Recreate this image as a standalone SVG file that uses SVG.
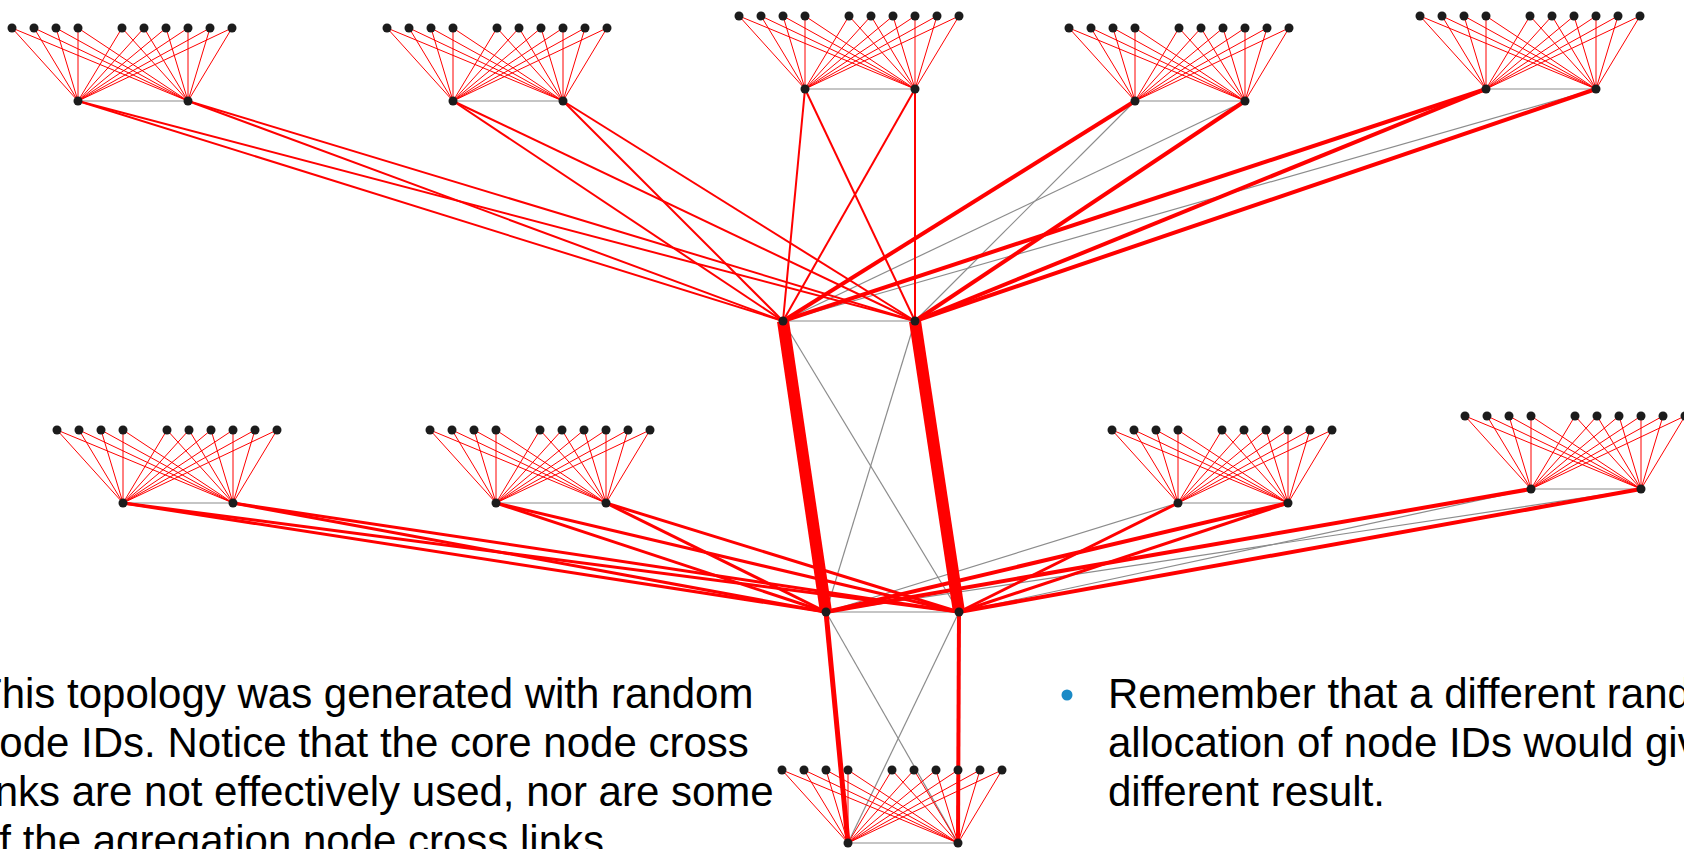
<svg xmlns="http://www.w3.org/2000/svg" xmlns:xlink="http://www.w3.org/1999/xlink" width="1684" height="849" viewBox="0 0 1684 849">
  <style>
    .fan { fill: none; stroke: #ff0000; stroke-width: 1; stroke-linejoin: round; }
    .g { stroke: #8c8c8c; stroke-width: 1.2; fill: none; }
    .r2 { stroke: #ff0000; stroke-width: 2; }
    .r3 { stroke: #ff0000; stroke-width: 3; }
    .r4 { stroke: #ff0000; stroke-width: 4; }
    .r5 { stroke: #ff0000; stroke-width: 5; }
    .r12 { stroke: #ff0000; stroke-width: 12; }
    .node circle { fill: #1c1c1c; }
    .txt { font-family: "Liberation Sans", Arial, sans-serif; font-size: 42px; fill: #000; }
  </style>
  <defs>
    <!-- one access block: two aggregation nodes (0,0) and (110,0), ten hosts 73 px above -->
    <path id="fan" d="M0,0 L-66,-73 L110,0 M0,0 L-44,-73 L110,0 M0,0 L-22,-73 L110,0 M0,0 L0,-73 L110,0 M0,0 L44,-73 L110,0 M0,0 L66,-73 L110,0 M0,0 L88,-73 L110,0 M0,0 L110,-73 L110,0 M0,0 L132,-73 L110,0 M0,0 L154,-73 L110,0"/>
    <line id="pair" x1="0" y1="0" x2="110" y2="0"/>
  </defs>

  <g id="connectors">
    <!-- unused cross links (grey) -->
    <g class="g">
      <use href="#pair" x="78" y="101"/>
      <use href="#pair" x="453" y="101"/>
      <use href="#pair" x="805" y="89"/>
      <use href="#pair" x="1135" y="101"/>
      <use href="#pair" x="1486" y="89"/>
      <use href="#pair" x="123" y="503"/>
      <use href="#pair" x="496" y="503"/>
      <use href="#pair" x="1178" y="503"/>
      <use href="#pair" x="1531" y="489"/>
      <use href="#pair" x="848" y="843"/>
      <line x1="783" y1="321" x2="915" y2="321"/>
      <line x1="826" y1="612" x2="959" y2="612"/>
      <line x1="783" y1="321" x2="959" y2="612"/>
      <line x1="915" y1="321" x2="826" y2="612"/>
      <line x1="826" y1="612" x2="958" y2="843"/>
      <line x1="959" y1="612" x2="848" y2="843"/>
      <line x1="1135" y1="101" x2="915" y2="321"/>
      <line x1="1245" y1="101" x2="783" y2="321"/>
      <line x1="1596" y1="89" x2="783" y2="321"/>
      <line x1="1178" y1="503" x2="826" y2="612"/>
      <line x1="1531" y1="489" x2="959" y2="612"/>
      <line x1="1641" y1="489" x2="826" y2="612"/>
    </g>

    <!-- host to aggregation fans -->
    <g class="fan">
      <use href="#fan" x="78" y="101"/>
      <use href="#fan" x="453" y="101"/>
      <use href="#fan" x="805" y="89"/>
      <use href="#fan" x="1135" y="101"/>
      <use href="#fan" x="1486" y="89"/>
      <use href="#fan" x="123" y="503"/>
      <use href="#fan" x="496" y="503"/>
      <use href="#fan" x="1178" y="503"/>
      <use href="#fan" x="1531" y="489"/>
      <use href="#fan" x="848" y="843"/>
    </g>

    <!-- upper aggregation to upper core -->
    <g class="r2">
      <line x1="78" y1="101" x2="783" y2="321"/>
      <line x1="78" y1="101" x2="915" y2="321"/>
      <line x1="188" y1="101" x2="783" y2="321"/>
      <line x1="188" y1="101" x2="915" y2="321"/>
      <line x1="453" y1="101" x2="783" y2="321"/>
      <line x1="453" y1="101" x2="915" y2="321"/>
      <line x1="563" y1="101" x2="783" y2="321"/>
      <line x1="563" y1="101" x2="915" y2="321"/>
      <line x1="805" y1="89" x2="783" y2="321"/>
      <line x1="805" y1="89" x2="915" y2="321"/>
      <line x1="915" y1="89" x2="783" y2="321"/>
      <line x1="915" y1="89" x2="915" y2="321"/>
    </g>
    <g class="r4">
      <line x1="1135" y1="101" x2="783" y2="321"/>
      <line x1="1245" y1="101" x2="915" y2="321"/>
      <line x1="1486" y1="89" x2="783" y2="321"/>
      <line x1="1486" y1="89" x2="915" y2="321"/>
      <line x1="1596" y1="89" x2="915" y2="321"/>
    </g>

    <!-- lower aggregation to lower core -->
    <g class="r3">
      <line x1="123" y1="503" x2="826" y2="612"/>
      <line x1="123" y1="503" x2="959" y2="612"/>
      <line x1="233" y1="503" x2="826" y2="612"/>
      <line x1="233" y1="503" x2="959" y2="612"/>
      <line x1="496" y1="503" x2="826" y2="612"/>
      <line x1="496" y1="503" x2="959" y2="612"/>
      <line x1="606" y1="503" x2="826" y2="612"/>
      <line x1="606" y1="503" x2="959" y2="612"/>
      <line x1="1178" y1="503" x2="959" y2="612"/>
      <line x1="1288" y1="503" x2="959" y2="612"/>
    </g>
    <g class="r4">
      <line x1="1288" y1="503" x2="826" y2="612"/>
      <line x1="1531" y1="489" x2="826" y2="612"/>
      <line x1="1641" y1="489" x2="959" y2="612"/>
    </g>

    <!-- core trunks -->
    <line class="r12" x1="783" y1="321" x2="826" y2="612"/>
    <line class="r12" x1="915" y1="321" x2="959" y2="612"/>
    <line class="r5" x1="826" y1="612" x2="848" y2="843"/>
    <line class="r4" x1="959" y1="612" x2="958" y2="843"/>
  </g>

  <!-- core nodes -->
  <g id="c1" class="node"><circle cx="783" cy="321" r="4.5"/></g>
  <g id="c2" class="node"><circle cx="915" cy="321" r="4.5"/></g>
  <g id="d1" class="node"><circle cx="826" cy="612" r="4.5"/></g>
  <g id="d2" class="node"><circle cx="959" cy="612" r="4.5"/></g>

  <!-- block t1 -->
  <g id="t1-a" class="node"><circle cx="78" cy="101" r="4.5"/></g>
  <g id="t1-b" class="node"><circle cx="188" cy="101" r="4.5"/></g>
  <g id="t1-h1" class="node"><circle cx="12" cy="28" r="4.5"/></g>
  <g id="t1-h2" class="node"><circle cx="34" cy="28" r="4.5"/></g>
  <g id="t1-h3" class="node"><circle cx="56" cy="28" r="4.5"/></g>
  <g id="t1-h4" class="node"><circle cx="78" cy="28" r="4.5"/></g>
  <g id="t1-h5" class="node"><circle cx="122" cy="28" r="4.5"/></g>
  <g id="t1-h6" class="node"><circle cx="144" cy="28" r="4.5"/></g>
  <g id="t1-h7" class="node"><circle cx="166" cy="28" r="4.5"/></g>
  <g id="t1-h8" class="node"><circle cx="188" cy="28" r="4.5"/></g>
  <g id="t1-h9" class="node"><circle cx="210" cy="28" r="4.5"/></g>
  <g id="t1-h10" class="node"><circle cx="232" cy="28" r="4.5"/></g>

  <!-- block t2 -->
  <g id="t2-a" class="node"><circle cx="453" cy="101" r="4.5"/></g>
  <g id="t2-b" class="node"><circle cx="563" cy="101" r="4.5"/></g>
  <g id="t2-h1" class="node"><circle cx="387" cy="28" r="4.5"/></g>
  <g id="t2-h2" class="node"><circle cx="409" cy="28" r="4.5"/></g>
  <g id="t2-h3" class="node"><circle cx="431" cy="28" r="4.5"/></g>
  <g id="t2-h4" class="node"><circle cx="453" cy="28" r="4.5"/></g>
  <g id="t2-h5" class="node"><circle cx="497" cy="28" r="4.5"/></g>
  <g id="t2-h6" class="node"><circle cx="519" cy="28" r="4.5"/></g>
  <g id="t2-h7" class="node"><circle cx="541" cy="28" r="4.5"/></g>
  <g id="t2-h8" class="node"><circle cx="563" cy="28" r="4.5"/></g>
  <g id="t2-h9" class="node"><circle cx="585" cy="28" r="4.5"/></g>
  <g id="t2-h10" class="node"><circle cx="607" cy="28" r="4.5"/></g>

  <!-- block t3 -->
  <g id="t3-a" class="node"><circle cx="805" cy="89" r="4.5"/></g>
  <g id="t3-b" class="node"><circle cx="915" cy="89" r="4.5"/></g>
  <g id="t3-h1" class="node"><circle cx="739" cy="16" r="4.5"/></g>
  <g id="t3-h2" class="node"><circle cx="761" cy="16" r="4.5"/></g>
  <g id="t3-h3" class="node"><circle cx="783" cy="16" r="4.5"/></g>
  <g id="t3-h4" class="node"><circle cx="805" cy="16" r="4.5"/></g>
  <g id="t3-h5" class="node"><circle cx="849" cy="16" r="4.5"/></g>
  <g id="t3-h6" class="node"><circle cx="871" cy="16" r="4.5"/></g>
  <g id="t3-h7" class="node"><circle cx="893" cy="16" r="4.5"/></g>
  <g id="t3-h8" class="node"><circle cx="915" cy="16" r="4.5"/></g>
  <g id="t3-h9" class="node"><circle cx="937" cy="16" r="4.5"/></g>
  <g id="t3-h10" class="node"><circle cx="959" cy="16" r="4.5"/></g>

  <!-- block t4 -->
  <g id="t4-a" class="node"><circle cx="1135" cy="101" r="4.5"/></g>
  <g id="t4-b" class="node"><circle cx="1245" cy="101" r="4.5"/></g>
  <g id="t4-h1" class="node"><circle cx="1069" cy="28" r="4.5"/></g>
  <g id="t4-h2" class="node"><circle cx="1091" cy="28" r="4.5"/></g>
  <g id="t4-h3" class="node"><circle cx="1113" cy="28" r="4.5"/></g>
  <g id="t4-h4" class="node"><circle cx="1135" cy="28" r="4.5"/></g>
  <g id="t4-h5" class="node"><circle cx="1179" cy="28" r="4.5"/></g>
  <g id="t4-h6" class="node"><circle cx="1201" cy="28" r="4.5"/></g>
  <g id="t4-h7" class="node"><circle cx="1223" cy="28" r="4.5"/></g>
  <g id="t4-h8" class="node"><circle cx="1245" cy="28" r="4.5"/></g>
  <g id="t4-h9" class="node"><circle cx="1267" cy="28" r="4.5"/></g>
  <g id="t4-h10" class="node"><circle cx="1289" cy="28" r="4.5"/></g>

  <!-- block t5 -->
  <g id="t5-a" class="node"><circle cx="1486" cy="89" r="4.5"/></g>
  <g id="t5-b" class="node"><circle cx="1596" cy="89" r="4.5"/></g>
  <g id="t5-h1" class="node"><circle cx="1420" cy="16" r="4.5"/></g>
  <g id="t5-h2" class="node"><circle cx="1442" cy="16" r="4.5"/></g>
  <g id="t5-h3" class="node"><circle cx="1464" cy="16" r="4.5"/></g>
  <g id="t5-h4" class="node"><circle cx="1486" cy="16" r="4.5"/></g>
  <g id="t5-h5" class="node"><circle cx="1530" cy="16" r="4.5"/></g>
  <g id="t5-h6" class="node"><circle cx="1552" cy="16" r="4.5"/></g>
  <g id="t5-h7" class="node"><circle cx="1574" cy="16" r="4.5"/></g>
  <g id="t5-h8" class="node"><circle cx="1596" cy="16" r="4.5"/></g>
  <g id="t5-h9" class="node"><circle cx="1618" cy="16" r="4.5"/></g>
  <g id="t5-h10" class="node"><circle cx="1640" cy="16" r="4.5"/></g>

  <!-- block m1 -->
  <g id="m1-a" class="node"><circle cx="123" cy="503" r="4.5"/></g>
  <g id="m1-b" class="node"><circle cx="233" cy="503" r="4.5"/></g>
  <g id="m1-h1" class="node"><circle cx="57" cy="430" r="4.5"/></g>
  <g id="m1-h2" class="node"><circle cx="79" cy="430" r="4.5"/></g>
  <g id="m1-h3" class="node"><circle cx="101" cy="430" r="4.5"/></g>
  <g id="m1-h4" class="node"><circle cx="123" cy="430" r="4.5"/></g>
  <g id="m1-h5" class="node"><circle cx="167" cy="430" r="4.5"/></g>
  <g id="m1-h6" class="node"><circle cx="189" cy="430" r="4.5"/></g>
  <g id="m1-h7" class="node"><circle cx="211" cy="430" r="4.5"/></g>
  <g id="m1-h8" class="node"><circle cx="233" cy="430" r="4.5"/></g>
  <g id="m1-h9" class="node"><circle cx="255" cy="430" r="4.5"/></g>
  <g id="m1-h10" class="node"><circle cx="277" cy="430" r="4.5"/></g>

  <!-- block m2 -->
  <g id="m2-a" class="node"><circle cx="496" cy="503" r="4.5"/></g>
  <g id="m2-b" class="node"><circle cx="606" cy="503" r="4.5"/></g>
  <g id="m2-h1" class="node"><circle cx="430" cy="430" r="4.5"/></g>
  <g id="m2-h2" class="node"><circle cx="452" cy="430" r="4.5"/></g>
  <g id="m2-h3" class="node"><circle cx="474" cy="430" r="4.5"/></g>
  <g id="m2-h4" class="node"><circle cx="496" cy="430" r="4.5"/></g>
  <g id="m2-h5" class="node"><circle cx="540" cy="430" r="4.5"/></g>
  <g id="m2-h6" class="node"><circle cx="562" cy="430" r="4.5"/></g>
  <g id="m2-h7" class="node"><circle cx="584" cy="430" r="4.5"/></g>
  <g id="m2-h8" class="node"><circle cx="606" cy="430" r="4.5"/></g>
  <g id="m2-h9" class="node"><circle cx="628" cy="430" r="4.5"/></g>
  <g id="m2-h10" class="node"><circle cx="650" cy="430" r="4.5"/></g>

  <!-- block m3 -->
  <g id="m3-a" class="node"><circle cx="1178" cy="503" r="4.5"/></g>
  <g id="m3-b" class="node"><circle cx="1288" cy="503" r="4.5"/></g>
  <g id="m3-h1" class="node"><circle cx="1112" cy="430" r="4.5"/></g>
  <g id="m3-h2" class="node"><circle cx="1134" cy="430" r="4.5"/></g>
  <g id="m3-h3" class="node"><circle cx="1156" cy="430" r="4.5"/></g>
  <g id="m3-h4" class="node"><circle cx="1178" cy="430" r="4.5"/></g>
  <g id="m3-h5" class="node"><circle cx="1222" cy="430" r="4.5"/></g>
  <g id="m3-h6" class="node"><circle cx="1244" cy="430" r="4.5"/></g>
  <g id="m3-h7" class="node"><circle cx="1266" cy="430" r="4.5"/></g>
  <g id="m3-h8" class="node"><circle cx="1288" cy="430" r="4.5"/></g>
  <g id="m3-h9" class="node"><circle cx="1310" cy="430" r="4.5"/></g>
  <g id="m3-h10" class="node"><circle cx="1332" cy="430" r="4.5"/></g>

  <!-- block m4 -->
  <g id="m4-a" class="node"><circle cx="1531" cy="489" r="4.5"/></g>
  <g id="m4-b" class="node"><circle cx="1641" cy="489" r="4.5"/></g>
  <g id="m4-h1" class="node"><circle cx="1465" cy="416" r="4.5"/></g>
  <g id="m4-h2" class="node"><circle cx="1487" cy="416" r="4.5"/></g>
  <g id="m4-h3" class="node"><circle cx="1509" cy="416" r="4.5"/></g>
  <g id="m4-h4" class="node"><circle cx="1531" cy="416" r="4.5"/></g>
  <g id="m4-h5" class="node"><circle cx="1575" cy="416" r="4.5"/></g>
  <g id="m4-h6" class="node"><circle cx="1597" cy="416" r="4.5"/></g>
  <g id="m4-h7" class="node"><circle cx="1619" cy="416" r="4.5"/></g>
  <g id="m4-h8" class="node"><circle cx="1641" cy="416" r="4.5"/></g>
  <g id="m4-h9" class="node"><circle cx="1663" cy="416" r="4.5"/></g>
  <g id="m4-h10" class="node"><circle cx="1685" cy="416" r="4.5"/></g>

  <!-- block b1 -->
  <g id="b1-a" class="node"><circle cx="848" cy="843" r="4.5"/></g>
  <g id="b1-b" class="node"><circle cx="958" cy="843" r="4.5"/></g>
  <g id="b1-h1" class="node"><circle cx="782" cy="770" r="4.5"/></g>
  <g id="b1-h2" class="node"><circle cx="804" cy="770" r="4.5"/></g>
  <g id="b1-h3" class="node"><circle cx="826" cy="770" r="4.5"/></g>
  <g id="b1-h4" class="node"><circle cx="848" cy="770" r="4.5"/></g>
  <g id="b1-h5" class="node"><circle cx="892" cy="770" r="4.5"/></g>
  <g id="b1-h6" class="node"><circle cx="914" cy="770" r="4.5"/></g>
  <g id="b1-h7" class="node"><circle cx="936" cy="770" r="4.5"/></g>
  <g id="b1-h8" class="node"><circle cx="958" cy="770" r="4.5"/></g>
  <g id="b1-h9" class="node"><circle cx="980" cy="770" r="4.5"/></g>
  <g id="b1-h10" class="node"><circle cx="1002" cy="770" r="4.5"/></g>

  <!-- notes -->
  <g id="note-left" class="txt">
    <text x="-24" y="708">This topology was generated with random</text>
    <text x="-24" y="757">node IDs. Notice that the core node cross</text>
    <text x="-24" y="806">links are not effectively used, nor are some</text>
    <text x="-24" y="855">of the agregation node cross links.</text>
  </g>
  <g id="note-right">
    <circle cx="1067" cy="695" r="5.5" fill="#1a8ac6"/>
    <g class="txt">
      <text x="1108" y="708">Remember that a different random</text>
      <text x="1108" y="757">allocation of node IDs would give a</text>
      <text x="1108" y="806">different result.</text>
    </g>
  </g>
</svg>
